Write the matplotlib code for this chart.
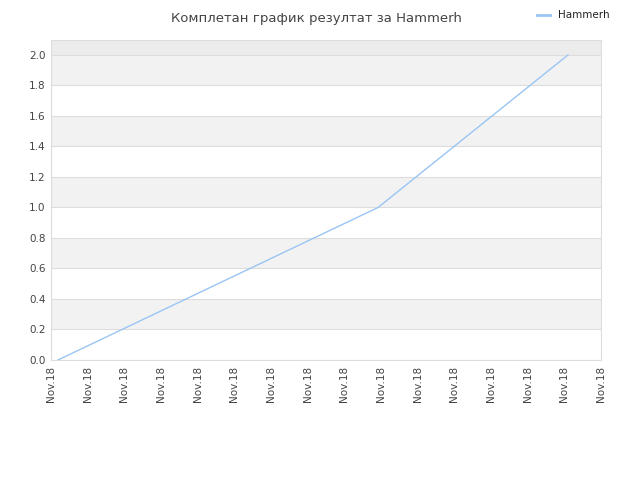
import numpy as np
import matplotlib.pyplot as plt

# data
x_pos = [0.19, 8.92, 14.1]
scores = [0.0, 1.0, 2.0]
tick_labels = ["Nov.18"] * 16
y_ticks = [0.0, 0.2, 0.4, 0.6, 0.8, 1.0, 1.2, 1.4, 1.6, 1.8, 2.0]

fig = plt.figure(figsize=(6.4, 4.8), dpi=100)
ax = fig.add_axes([51 / 640, 120 / 480, 550 / 640, 320 / 480])

ymax = 2.098
# alternating bands
for i in range(10):
    lo = i * 0.2
    ax.axhspan(lo, lo + 0.2, color="#f2f2f2" if i % 2 == 1 else "white", zorder=0, lw=0)
ax.axhspan(2.0, ymax, color="#ececec", zorder=0, lw=0)
for y in y_ticks:
    ax.axhline(y, color="#dddddd", lw=0.8, zorder=1)

ax.plot(x_pos, scores, color="#99c5f5", lw=1.0, zorder=3, label="Hammerh")

ax.set_xlim(0, 15)
ax.set_ylim(0, ymax)
ax.set_xticks(range(16))
ax.set_xticklabels(tick_labels, rotation=90, fontsize=7.5, color="#444444")
ax.set_yticks(y_ticks)
ax.set_yticklabels([f"{v:.1f}" for v in y_ticks], fontsize=7.5, color="#444444")
ax.tick_params(length=0, pad=4)
for s in ax.spines.values():
    s.set_color("#dddddd")
    s.set_linewidth(0.8)

fig.text(0.495, 0.975, "Комплетан график резултат за Hammerh", ha="center", va="top",
         fontsize=9.5, color="#444444")
leg = fig.legend(loc="upper right", bbox_to_anchor=(0.967, 0.998), frameon=False, fontsize=7.5,
                 handlelength=1.2, labelcolor="#222222")
for h in leg.get_lines():
    h.set_linewidth(2.0)

fig.savefig("out.png", dpi=100)
